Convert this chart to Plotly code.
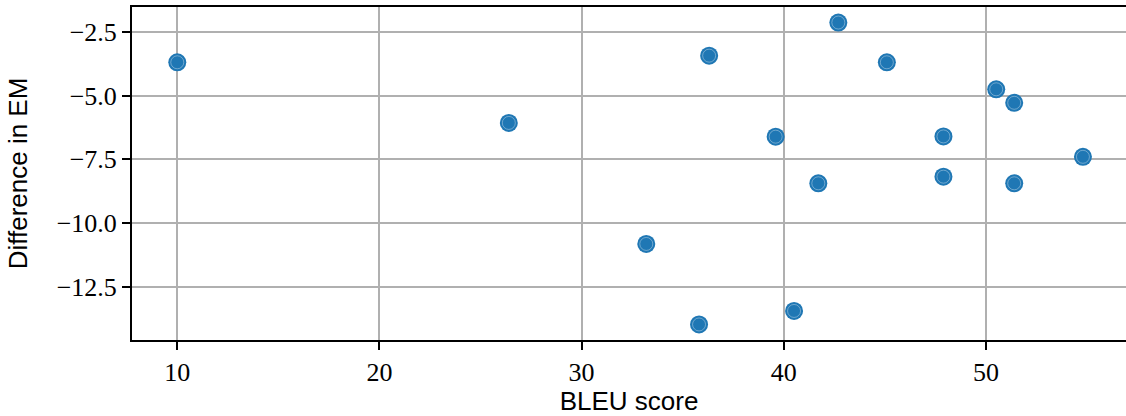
import plotly.graph_objects as go

# BLEU score vs. drop in exact match (EM)
bleu = [10.0, 26.40, 33.20, 35.81, 36.31, 39.60, 40.51, 41.71, 42.70,
        45.10, 47.90, 47.90, 50.51, 51.40, 51.40, 54.80]
em_diff = [-3.69, -6.07, -10.82, -13.98, -3.43, -6.61, -13.45, -8.44, -2.13,
           -3.69, -6.60, -8.18, -4.75, -5.28, -8.44, -7.40]

x_ticks = [10, 20, 30, 40, 50]
y_ticks = [-2.5, -5.0, -7.5, -10.0, -12.5]

blue = "#1f77b4"

fig = go.Figure()
fig.add_trace(go.Scatter(
    x=bleu, y=em_diff, mode="markers",
    marker=dict(size=18, color=blue, line=dict(width=0)),
    hoverinfo="x+y", showlegend=False,
))
# thin light ring inside each marker
fig.add_trace(go.Scatter(
    x=bleu, y=em_diff, mode="markers",
    marker=dict(size=13, symbol="circle-open",
                color="rgba(255,255,255,0.35)", line=dict(width=1)),
    hoverinfo="skip", showlegend=False,
))

tick_font = dict(family="Liberation Serif", size=26, color="black")
title_font = dict(family="Liberation Sans", size=26, color="black")

fig.update_layout(
    width=1126, height=416,
    margin=dict(l=132, r=0, t=7, b=76),
    paper_bgcolor="white", plot_bgcolor="white",
    xaxis=dict(
        range=[7.76, 56.93], tickvals=x_ticks, ticktext=[str(v) for v in x_ticks],
        showgrid=True, gridcolor="#b0b0b0", gridwidth=2,
        showline=True, linecolor="black", linewidth=2, mirror=True,
        ticks="outside", ticklen=8, tickwidth=2, tickcolor="black",
        tickfont=tick_font, zeroline=False,
        title=dict(text="BLEU score", font=title_font, standoff=6),
    ),
    yaxis=dict(
        range=[-14.59, -1.52], tickvals=y_ticks,
        ticktext=[f"\u2212{abs(v):.1f}" for v in y_ticks],
        showgrid=True, gridcolor="#b0b0b0", gridwidth=2,
        showline=True, linecolor="black", linewidth=2,
        ticks="outside", ticklen=8, tickwidth=2, tickcolor="black",
        tickfont=tick_font, zeroline=False,
        title=dict(text="Difference in EM", font=title_font, standoff=22),
    ),
)

fig.write_html("out.html")
